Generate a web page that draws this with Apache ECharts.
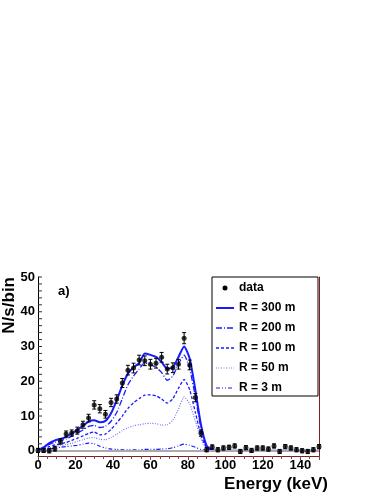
<!DOCTYPE html>
<html>
<head>
<meta charset="utf-8">
<script src="https://cdn.jsdelivr.net/npm/echarts@6/dist/echarts.min.js"></script>
<style>
  html, body { margin: 0; padding: 0; background: #fff; }
  #chart { width: 382px; height: 494px; }
</style>
</head>
<body>
<div id="chart"></div>
<script>
// energy bins (keV)
var energy = [0,3,6,9,12,15,18,21,24,27,30,33,36,39,42,45,48,51,54,57,60,63,66,69,72,75,78,81,84,87,90,
  93,96,99,102,105,108,111,114,117,120,123,126,129,132,135,138,141,144,147,150];

// measured rate and errors
var dataVal = [0.1,0.1,0,0.6,2.7,4.8,5.1,5.8,7.5,9.4,13.2,12.1,10.5,13.9,14.9,19.5,23.2,23.8,26.1,25.9,24.9,25.2,26.9,23.5,23.9,24.9,32.4,24.7,15.3,5.1,0.3,
  1.1,0.3,0.8,1.0,1.4,-0.2,0.9,0.1,0.8,0.8,0.5,1.4,-0.2,1.2,0.8,0.3,0.0,-0.2,0.3,1.2];
var dataErr = [0.6,0.6,0.6,0.7,0.8,0.9,0.9,1.0,1.0,1.1,1.2,1.2,1.1,1.2,1.2,1.3,1.4,1.4,1.4,1.4,1.4,1.4,1.4,1.4,1.4,1.4,1.6,1.4,1.2,0.9,0.6,
  0.6,0.6,0.6,0.6,0.6,0.6,0.6,0.6,0.6,0.6,0.6,0.6,0.6,0.6,0.6,0.6,0.6,0.6,0.6,0.6];

// simulated spectra (up to 93 keV, zero above)
var r300 = [0.3,1.0,2.2,3.0,3.4,4.0,5.0,6.0,7.2,8.4,8.8,8.2,8.6,10.8,14.5,18.8,22.2,24.0,25.2,28.0,27.6,27.0,25.5,23.6,24.0,27.0,30.0,26.5,17.5,7.5,1.5,0.2];
var r200 = [0.2,0.8,1.8,2.5,2.9,3.4,4.2,5.0,6.0,7.0,7.3,6.7,7.0,8.5,11.0,15.0,19.0,21.5,23.5,25.3,24.8,24.0,22.5,20.3,21.5,25.0,27.5,23.5,15.5,6.5,1.2,0.1];
var r100 = [0.1,0.5,1.2,1.7,2.0,2.4,3.0,3.6,4.3,5.0,5.4,4.6,4.8,6.2,8.0,10.0,12.2,13.8,15.0,16.0,16.1,15.8,14.9,13.7,15.0,18.0,20.5,17.5,11.0,4.5,0.8,0.1];
var r50 = [0.1,0.3,0.8,1.2,1.5,1.8,2.2,2.7,3.2,3.7,3.8,3.3,3.2,3.8,4.8,5.8,6.6,7.2,7.5,7.8,7.9,7.8,7.4,7.5,8.8,12.0,15.5,13.5,8.5,3.5,0.6,0.1];
var r3 = [0.0,0.2,0.5,0.8,1.0,1.2,1.4,1.6,1.9,2.2,2.0,1.3,0.8,0.5,0.4,0.3,0.3,0.3,0.3,0.4,0.4,0.4,0.5,0.6,0.9,1.4,1.9,1.6,1.0,0.4,0.1,0.0];

var yTicks = [0, 10, 20, 30, 40, 50];
var yMinor = [2, 4, 6, 8, 12, 14, 16, 18, 22, 24, 26, 28, 32, 34, 36, 38, 42, 44, 46, 48];
var legendNames = ['data', 'R = 300 m', 'R = 200 m', 'R = 100 m', 'R = 50 m', 'R = 3 m'];

function toPairs(vals) {
  var out = [];
  for (var i = 0; i < energy.length; i++) {
    out.push([energy[i], i < vals.length ? vals[i] : 0]);
  }
  return out;
}

var blue = '#1a1aff';
var font = '"Liberation Sans", Arial, sans-serif';

var curves = [
  { name: legendNames[1], vals: r300, type: 'solid', width: 2, opacity: 1 },
  { name: legendNames[2], vals: r200, type: [6, 2, 1, 2], width: 1.3, opacity: 1 },
  { name: legendNames[3], vals: r100, type: [3, 2], width: 1.3, opacity: 1 },
  { name: legendNames[4], vals: r50, type: [1, 1.5], width: 1.2, opacity: 0.6 },
  { name: legendNames[5], vals: r3, type: [4, 2, 1, 2, 1, 2], width: 1.2, opacity: 1 }
];

var series = [];
curves.forEach(function (c) {
  series.push({
    name: c.name,
    type: 'line',
    data: toPairs(c.vals),
    showSymbol: false,
    smooth: 0.2,
    lineStyle: { color: blue, width: c.width, type: c.type, opacity: c.opacity },
    z: 3
  });
});

// grey zero line
series.push({
  type: 'line', data: [], silent: true,
  markLine: { symbol: 'none', silent: true, label: { show: false },
    lineStyle: { color: '#aaa', width: 2, type: 'solid' }, data: [{ yAxis: 0 }] },
  z: 2
});

// y ticks, ROOT style (inside)
series.push({
  type: 'custom', silent: true,
  data: yMinor.map(function (v) { return [0, v]; }).concat(yTicks.map(function (v) { return [0, v, 1]; })),
  renderItem: function (params, api) {
    var p = api.coord([0, api.value(1)]);
    var len = api.value(2) === 1 ? 8 : 4;
    return { type: 'line', shape: { x1: p[0], y1: p[1], x2: p[0] + len, y2: p[1] },
      style: { stroke: '#333', lineWidth: 1 } };
  },
  z: 4
});

// error bars
series.push({
  type: 'custom',
  name: 'errors',
  data: energy.map(function (e, i) { return [e, dataVal[i] - dataErr[i], dataVal[i] + dataErr[i]]; }),
  renderItem: function (params, api) {
    var lo = api.coord([api.value(0), api.value(1)]);
    var hi = api.coord([api.value(0), api.value(2)]);
    var s = { stroke: '#000', lineWidth: 1 };
    return {
      type: 'group',
      children: [
        { type: 'line', shape: { x1: lo[0], y1: lo[1], x2: hi[0], y2: hi[1] }, style: s },
        { type: 'line', shape: { x1: lo[0] - 2, y1: lo[1], x2: lo[0] + 2, y2: lo[1] }, style: s },
        { type: 'line', shape: { x1: hi[0] - 2, y1: hi[1], x2: hi[0] + 2, y2: hi[1] }, style: s }
      ]
    };
  },
  z: 5
});

series.push({
  name: 'data',
  type: 'scatter',
  data: toPairs(dataVal),
  symbol: 'circle',
  symbolSize: 5,
  itemStyle: { color: '#000' },
  z: 6
});

// legend drawn by hand (ROOT style box)
var lgX = 212, lgY = 277, lgW = 106, lgH = 119;
var extras = [
  { type: 'rect', shape: { x: lgX, y: lgY, width: lgW, height: lgH },
    style: { fill: '#fff', stroke: '#000', lineWidth: 1 }, z: 20 }
];
legendNames.forEach(function (n, i) {
  var y = lgY + 11 + i * 20;
  if (i === 0) {
    extras.push({ type: 'circle', shape: { cx: lgX + 13, cy: y, r: 2.5 }, style: { fill: '#000' }, z: 21 });
  } else {
    var c = curves[i - 1];
    extras.push({ type: 'line', shape: { x1: lgX + 4, y1: y, x2: lgX + 22, y2: y },
      style: { stroke: blue, lineWidth: c.width, lineDash: c.type === 'solid' ? null : c.type, opacity: c.opacity }, z: 21 });
  }
  extras.push({ type: 'text', x: lgX + 27, y: y,
    style: { text: n, font: 'bold 12px ' + font, fill: '#000', textVerticalAlign: 'middle' }, z: 21 });
});
extras.push({ type: 'text', x: 58, y: 291,
  style: { text: 'a)', font: 'bold 13px ' + font, fill: '#000', textVerticalAlign: 'middle' }, z: 21 });
// axis titles, ROOT placement
extras.push({ type: 'text', x: 9, y: 277, rotation: Math.PI / 2,
  style: { text: 'N/s/bin', font: 'bold 17px ' + font, fill: '#000', textAlign: 'right', textVerticalAlign: 'middle' }, z: 21 });
extras.push({ type: 'text', x: 328, y: 484,
  style: { text: 'Energy (keV)', font: 'bold 17px ' + font, fill: '#000', textAlign: 'right', textVerticalAlign: 'middle' }, z: 21 });

var chart = echarts.init(document.getElementById('chart'));
chart.setOption({
  animation: false,
  backgroundColor: '#fff',
  grid: { left: 38, right: 63, top: 277, bottom: 38 },
  xAxis: [{
    type: 'value', min: 0, max: 150, interval: 20,
    axisLine: { show: true, onZero: false, lineStyle: { color: '#8b1a1a', width: 1.2 } },
    axisTick: { show: true, inside: false, length: 4, lineStyle: { color: '#555' } },
    minorTick: { show: true, splitNumber: 4, length: 3, lineStyle: { color: '#555' } },
    axisLabel: { fontFamily: font, fontWeight: 'bold', fontSize: 13, color: '#000', margin: 3,
      formatter: function (v) { return v > 140 ? '' : v; } },
    splitLine: { show: false }
  }, {
    type: 'value', min: 0, max: 150, position: 'top',
    axisLine: { show: true, lineStyle: { color: '#000', width: 1 } },
    axisTick: { show: false }, axisLabel: { show: false }, splitLine: { show: false }
  }],
  yAxis: [{
    type: 'value', min: -1.5, max: 50, position: 'left',
    axisLine: { show: true, onZero: false, lineStyle: { color: '#000', width: 1 } },
    axisTick: { show: false },
    minorTick: { show: false },
    axisLabel: { fontFamily: font, fontWeight: 'bold', fontSize: 13, color: '#000', margin: 3,
      customValues: yTicks },
    splitLine: { show: false }
  }, {
    type: 'value', min: -1.5, max: 50, position: 'right',
    axisLine: { show: true, onZero: false, lineStyle: { color: '#8b1a1a', width: 1 } },
    axisTick: { show: false }, axisLabel: { show: false }, splitLine: { show: false }
  }],
  graphic: extras,
  series: series
});
</script>
</body>
</html>
